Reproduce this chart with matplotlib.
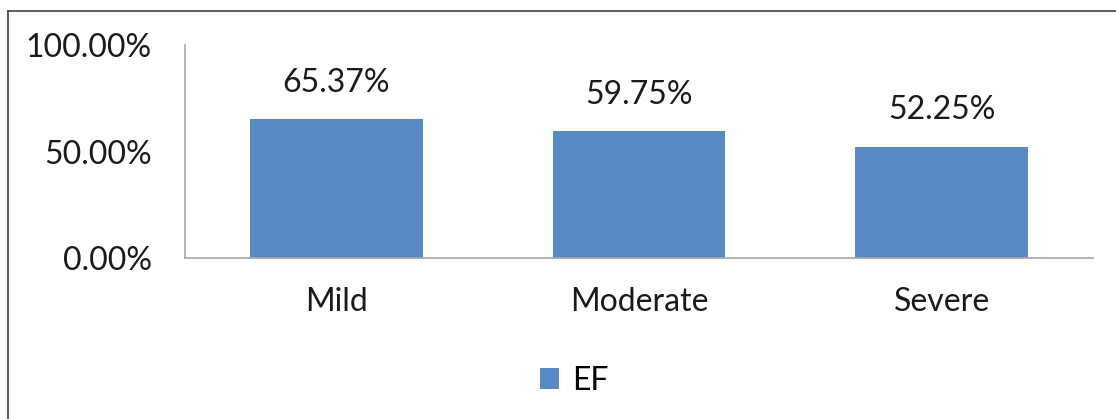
import matplotlib.pyplot as plt
from matplotlib.patches import Patch
from matplotlib.lines import Line2D

categories = ["Mild", "Moderate", "Severe"]
ef_values = [65.37, 59.75, 52.25]
y_ticks = [0, 50, 100]
y_tick_labels = ["0.00%", "50.00%", "100.00%"]
series_name = "EF"

plt.rcParams['font.family'] = ['Lato', 'DejaVu Sans']

fig = plt.figure(figsize=(11.16, 4.19), dpi=100)
ax = fig.add_axes([185 / 1116, 1 - 258 / 419, (1093 - 185) / 1116, (258 - 45) / 419])

bar_color = '#5A8AC6'
x = range(len(categories))
ax.bar(x, ef_values, width=0.57, color=bar_color, label=series_name)

for i, v in enumerate(ef_values):
    ax.text(i, v + 17, f"{v:.2f}%", ha='center', va='center', fontsize=23, color='#1a1a1a')

ax.set_xlim(-0.5, 2.5)
ax.set_ylim(0, 100)
ax.set_yticks(y_ticks)
ax.set_yticklabels(y_tick_labels, fontsize=23, color='#1a1a1a')
ax.set_xticks(list(x))
ax.set_xticklabels(categories, fontsize=23, color='#1a1a1a')
ax.tick_params(axis='y', length=0, pad=24)
ax.tick_params(axis='x', length=0, pad=21)

for s in ['top', 'right']:
    ax.spines[s].set_visible(False)
for s in ['left', 'bottom']:
    ax.spines[s].set_color('#A6A6A6')
    ax.spines[s].set_linewidth(1.2)

handles = [Patch(facecolor=bar_color, label=series_name)]
fig.legend(handles=handles, loc='center', bbox_to_anchor=(574 / 1116, 1 - 381 / 419),
           frameon=False, fontsize=23, handlelength=0.62, handleheight=0.62,
           handletextpad=0.4)

# outer chart border (top and left visible)
fig.add_artist(Line2D([8 / 1116, 1], [1 - 11 / 419, 1 - 11 / 419], color='#404040', lw=1.2))
fig.add_artist(Line2D([8 / 1116, 8 / 1116], [0, 1 - 11 / 419], color='#404040', lw=1.2))

fig.savefig("out.png", dpi=100)
